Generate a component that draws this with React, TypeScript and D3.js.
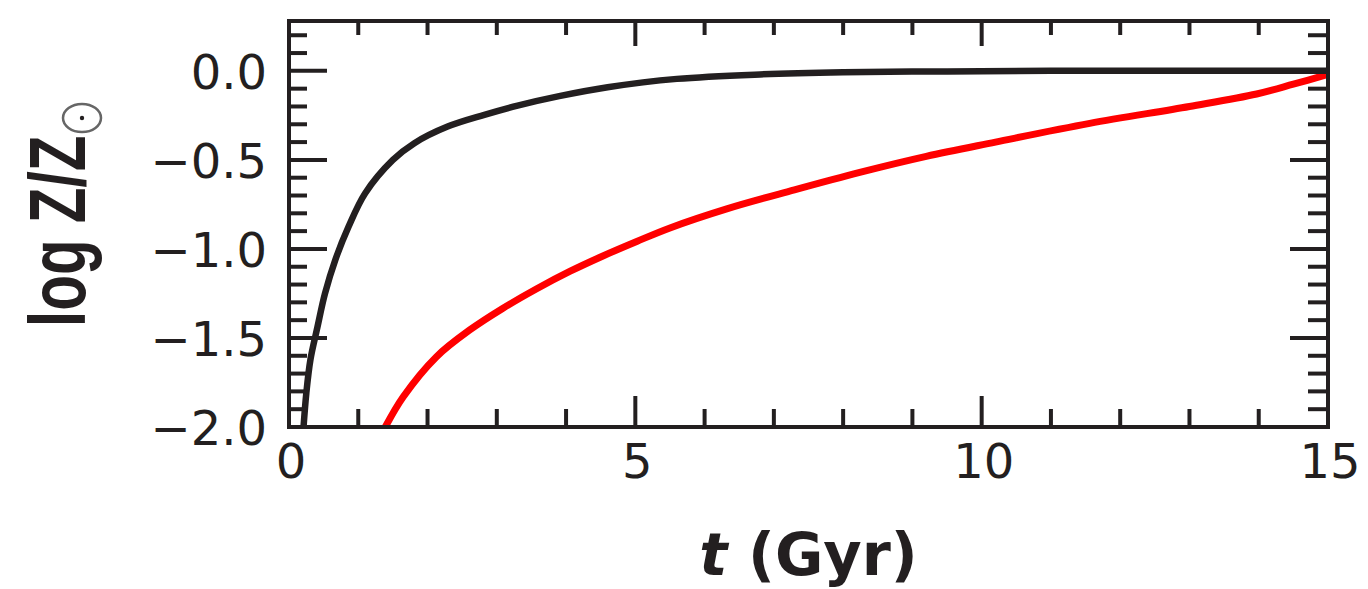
import * as d3 from 'd3'

// black curve (upper)
const blackT = [0.21, 0.25, 0.31, 0.41, 0.52, 0.67, 0.86, 1.1, 1.5, 1.81, 2.29, 2.82, 3.3, 3.9, 4.6, 5.6, 6.8, 8.0, 9.5, 11, 13, 15]
const blackZ = [-2.0, -1.81, -1.62, -1.44, -1.25, -1.06, -0.875, -0.687, -0.5, -0.406, -0.313, -0.247, -0.195, -0.142, -0.092, -0.045, -0.02, -0.008, -0.003, 0, 0, 0]

// red curve (lower)
const redT = [1.39, 1.65, 2.13, 2.61, 3.09, 3.57, 4.06, 4.54, 5.02, 5.5, 6.32, 7.28, 8.24, 9.2, 10.2, 11.56, 13.0, 13.97, 14.5, 15]
const redZ = [-2.0, -1.83, -1.605, -1.455, -1.333, -1.225, -1.125, -1.038, -0.958, -0.882, -0.775, -0.67, -0.57, -0.48, -0.4, -0.295, -0.2, -0.13, -0.075, -0.02]

const xTickLabels = [0, 5, 10, 15]
const yTickLabels = [0.0, -0.5, -1.0, -1.5, -2.0]

const W = 1368
const H = 589
const margin = { left: 289, right: 40, top: 21, bottom: 162 }
const ink = '#231f20'

export default function App() {
  const x = d3.scaleLinear().domain([0, 15]).range([margin.left, W - margin.right])
  const y = d3.scaleLinear().domain([-2.0, 0.28]).range([H - margin.bottom, margin.top])

  const line = d3.line<[number, number]>()
    .x(d => x(d[0]))
    .y(d => y(d[1]))
    .curve(d3.curveCatmullRom.alpha(0.5))

  const black = blackT.map((t, i) => [t, blackZ[i]] as [number, number])
  const red = redT.map((t, i) => [t, redZ[i]] as [number, number])

  const xTicks = d3.range(0, 16, 1)
  const yTicks = d3.range(-20, 3, 1).map(v => v / 10)
  const isMajorY = (v: number) => Math.abs(Math.round(v * 2) - v * 2) < 1e-6

  const fmt = (v: number) => (v < 0 ? '\u2212' : '') + Math.abs(v).toFixed(1)

  const x0 = x(0), x1 = x(15), y0 = y(-2.0), y1 = y(0.28)

  return (
    <svg width={W} height={H} style={{ position: 'absolute', left: 0, top: 0, background: '#fff' }}>
      <defs>
        <clipPath id="plot">
          <rect x={x0} y={y1} width={x1 - x0} height={y0 - y1} />
        </clipPath>
      </defs>

      <g clipPath="url(#plot)">
        <path d={line(red) ?? ''} fill="none" stroke="#ff0000" strokeWidth={7} />
        <path d={line(black) ?? ''} fill="none" stroke={ink} strokeWidth={6.5} />
      </g>

      {/* ticks */}
      <g stroke={ink} strokeWidth={4}>
        {xTicks.map(t => {
          const major = t % 5 === 0
          return (
            <g key={'xt' + t}>
              <line x1={x(t)} x2={x(t)} y1={y0} y2={y0 - (major ? 31 : 18)} />
              <line x1={x(t)} x2={x(t)} y1={y1} y2={y1 + (major ? 25 : 14)} />
            </g>
          )
        })}
        {yTicks.map(v => {
          const major = isMajorY(v)
          return (
            <g key={'yt' + v}>
              <line x1={x0} x2={x0 + (major ? 38 : 18)} y1={y(v)} y2={y(v)} />
              <line x1={x1} x2={x1 - (major ? 38 : 20)} y1={y(v)} y2={y(v)} />
            </g>
          )
        })}
      </g>

      {/* frame */}
      <rect x={x0} y={y1} width={x1 - x0} height={y0 - y1} fill="none" stroke={ink} strokeWidth={4} />

      {/* tick labels */}
      <g fontFamily="DejaVu Sans" fontSize={48} fill={ink}>
        {yTickLabels.map(v => (
          <text key={'yl' + v} x={267} y={y(v) + 18} textAnchor="end">{fmt(v)}</text>
        ))}
        {xTickLabels.map(t => (
          <text key={'xl' + t} x={x(t) + 2} y={478} textAnchor="middle">{t}</text>
        ))}
      </g>

      {/* x title */}
      <text x={(x0 + x1) / 2} y={575} textAnchor="middle" fontFamily="DejaVu Sans" fontWeight="bold" fontSize={59} fill={ink}>
        <tspan fontStyle="italic">t</tspan> (Gyr)
      </text>

      {/* y title */}
      <g transform="translate(85,327) rotate(-90)">
        <text transform="scale(0.73,1)" x={0} y={0} fontFamily="Liberation Sans" fontWeight="bold" fontSize={80} fill={ink}>
          log Z/Z
        </text>
        <ellipse cx={209} cy={-3} rx={14} ry={19} fill="none" stroke="#666" strokeWidth={2.5} />
        <circle cx={209} cy={-3} r={2.2} fill={ink} />
      </g>
    </svg>
  )
}
